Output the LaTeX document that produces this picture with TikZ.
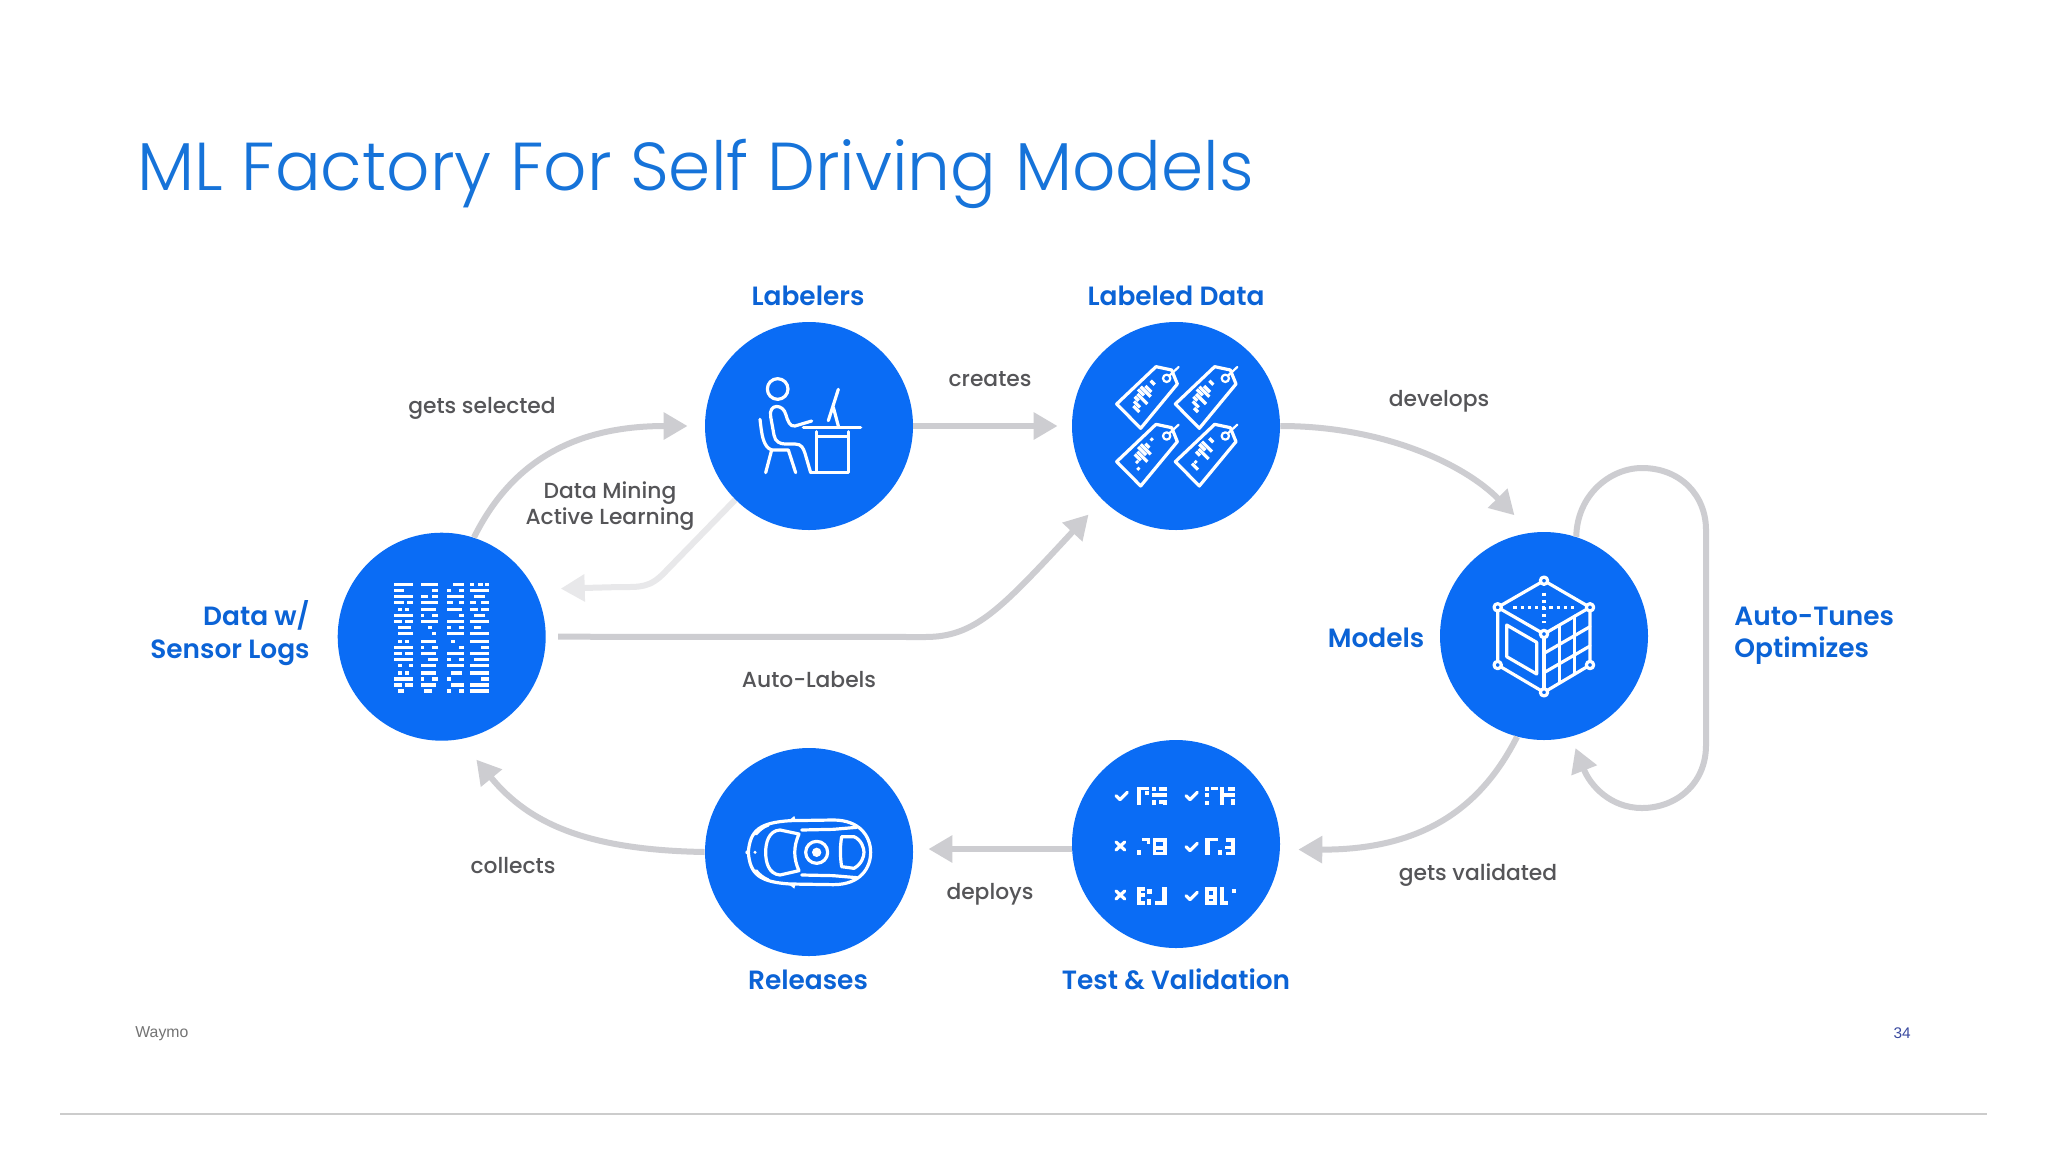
\documentclass[tikz,border=0pt]{standalone}
\usepackage{fontspec}
\setmainfont{Poppins}
\newfontfamily\labfont{Poppins Medium}
\newfontfamily\boldlabfont{Poppins SemiBold}
\newfontfamily\titlefont{Poppins Light}
\newfontfamily\footfont{Liberation Sans}
\usetikzlibrary{arrows.meta}
\definecolor{blob}{HTML}{0A6CF5}
\definecolor{labblue}{HTML}{0B63D6}
\definecolor{titleblue}{HTML}{1673D9}
\definecolor{textgray}{HTML}{555558}
\definecolor{conngray}{HTML}{CDCDD1}
\definecolor{connlight}{HTML}{E8E8EA}
\definecolor{pageblue}{HTML}{3A4AA0}
\newcommand{\glyphrects}[1]{\foreach \a/\b/\c/\d in {#1} {\fill[white] (\a,\b) rectangle (\c,\d);}}
\newcommand{\tagicon}[3]{%
  \begin{scope}[shift={(#1,#2)}]
    \draw[iconline] (140,252) -- (258,140) -- (305,150) -- (322,192) -- (212,325) -- cycle;
    \draw[iconline,line width=1.1pt] (290,175) circle (11);
    \draw[iconline,line width=1.1pt] (298,167) -- (326,141);
    \foreach \t/\p/\q in {#3} {
      \draw[white,line width=1.6pt] ({190+\t*8+\p*6},{258-\t*8+\p*6}) -- ({190+\t*8+\q*6},{258-\t*8+\q*6});
    }
  \end{scope}}
\tikzset{
  blobnode/.style={circle,fill=blob,draw=none,inner sep=0pt,minimum size=104pt},
  conn/.style={draw=conngray,line width=3pt,-{Triangle[length=12pt,width=13pt]}},
  iconline/.style={draw=white,line width=1.6pt,line cap=round,line join=round},
  bluelab/.style={text=labblue,font=\boldlabfont\fontsize{13.2}{16.2}\selectfont,inner sep=0pt},
  graylab/.style={text=textgray,font=\labfont\fontsize{10.9}{13}\selectfont,inner sep=0pt,align=center},
}
\begin{document}
\begin{tikzpicture}[x=0.5pt,y=-0.5pt]
\useasboundingbox (0,0) rectangle (2048,1152);
\fill[white] (0,0) rectangle (2048,1152);

\node[blobnode] (data) at (441.7,636.7) {};
\node[blobnode] (lab) at (809,426) {};
\node[blobnode] (ld) at (1176,426) {};
\node[blobnode] (models) at (1544,636) {};
\node[blobnode] (test) at (1176,844) {};
\node[blobnode] (rel) at (809,852) {};

\draw[conn,shorten >=8.5pt] (data.72) .. controls (510,465) and (570,426) .. (lab.west);
\draw[conn,shorten >=7pt] (lab.east) -- (ld.west);
\draw[conn,shorten >=12pt] (ld.east) .. controls (1385,426) and (1465,465) .. (models.97);
\draw[conn,draw=connlight,shorten >=13pt] (lab.225) -- (665,572) .. controls (650,588) and (640,587) .. (620,587) -- (data.27);
\draw[conn,shorten <=6pt,shorten >=10pt] (data.east) -- (925,637) .. controls (975,637) and (1000,610) .. (ld.225);
\draw[conn,shorten >=6pt] (models.72) .. controls (1577,495) and (1610,468) .. (1642,468) .. controls (1680,468) and (1706,495) .. (1706,530) -- (1706,745) .. controls (1706,785) and (1675,808) .. (1642,808) .. controls (1610,808) and (1590,785) .. (models.285);
\draw[conn,shorten >=9pt] (models.255) .. controls (1480,810) and (1420,850) .. (test.-3);
\draw[conn,shorten >=7.5pt] (test.west) ++(0,5) -- (rel.east |- 0,849);
\draw[conn,shorten >=13pt] (rel.west) .. controls (590,850) and (530,825) .. (data.-80);

% title and footer
\node[anchor=base west,text=titleblue,font=\titlefont\fontsize{33.9}{40}\selectfont,inner sep=0pt] (title) at (137,190) {ML Factory For Self Driving Models};
\node[anchor=west,text=black!55,font=\footfont\fontsize{7.9}{9}\selectfont,inner sep=0pt] (waymo) at (135,1034) {Waymo};
\node[anchor=east,text=pageblue,font=\footfont\fontsize{7.7}{9}\selectfont,inner sep=0pt] (pagenum) at (1911,1033) {34};
\coordinate (ruleL) at (60,1114);
\coordinate (ruleR) at (1987,1114);
\draw[draw=black!20,line width=0.7pt] (ruleL) -- (ruleR);

% blue labels
\node[bluelab] (t1) at (808,296) {Labelers};
\node[bluelab] (t2) at (1176,296) {Labeled Data};
\node[bluelab,align=right,anchor=east] (t3) at (310,633) {Data w/\\Sensor Logs};
\node[bluelab] (t4) at (1376,638) {Models};
\node[bluelab,align=left,anchor=west] (t5) at (1734,636) {Auto-Tunes\\Optimizes};
\node[bluelab] (t6) at (808,980) {Releases};
\node[bluelab] (t7) at (1176,979) {Test \& Validation};

% gray labels
\node[graylab] (g1) at (482,408) {gets selected};
\node[graylab] (g2) at (990,379) {creates};
\node[graylab] (g3) at (1439,401) {develops};
\node[graylab] (g4) at (610,506) {Data Mining\\Active Learning};
\node[graylab] (g5) at (809,680) {Auto-Labels};
\node[graylab] (g6) at (513,866) {collects};
\node[graylab] (g7) at (990,894) {deploys};
\node[graylab] (g8) at (1478,875) {gets validated};

% icon: code grid
\foreach \yy/\segs in {
 0/{0/5,7/11.5,15.5/18.5,20/21,22/23.5,24/25},
 1/{0/2.5,10/11.5,14/15,17/18.5,20/25},
 2/{0/5,7/9,10/11.5,14/18.5,21/24},
 3/{0/2.5,3.5/5,7/11.5,14/15.5,17/18.5,20/21.5,23/25},
 4.17/{1/2,3/4,7/11,14/18,20/22,23/25},
 5.17/{0/5,7/8,10/11.5,17/18.5,21/24},
 6.17/{0/2,3/5,7/11.5,14/18.5,20/25},
 7.17/{1/4.5,9/10,14/15,17/18.5,21/23},
 8.17/{1/5,10/11,14/18.5,20/25},
 9.5/{1/2,3/4,7/11,15/16,20/25},
 10.5/{0/5,7/8,10/11.5,17/18.5,23/25},
 11.5/{0/2,3/5,7/11,14/18.5,20/25},
 12.5/{0/5,9/11.5,14/15,17/18.5,21/25},
 13.5/{1/2,4/5,7/11,14/18.5,20/25},
 14.83/{1/2,3/4,7/11,15/18,20/25},
 15.83/{0/5,7/8,10/11.5,14/15,23/25},
 16.83/{0/2,3/5,7/11,15/18.5,20/25},
 17.83/{1/2.5,8/10,14/15,17/18.5,20/25}} {
  \foreach \a/\b in \segs {
    \fill[white] ({394+\a*3.8},{582.5+\yy*6}) rectangle ({394+\b*3.8},{586+\yy*6});
  }
}

% icon: person at desk
\begin{scope}[shift={(700,320)},scale=0.3333]
  \draw[iconline] (233,207) circle (31);
  \draw[iconline] (335,303) -- (285,318) .. controls (270,322) and (262,300) .. (258,285) .. controls (250,250) and (205,250) .. (212,290) -- (222,345) .. controls (225,365) and (240,372) .. (255,372) -- (285,372) .. controls (305,372) and (310,385) .. (315,400) -- (332,458);
  \draw[iconline] (180,298) .. controls (185,340) and (188,380) .. (215,390) -- (197,458);
  \draw[iconline] (215,390) -- (265,390) -- (287,458);
  \draw[iconline] (310,323) -- (482,323);
  \draw[iconline] (350,335) -- (350,458) -- (445,458) -- (445,335);
  \draw[iconline] (350,350) -- (445,350);
  \draw[iconline] (332,458) -- (350,458);
  \draw[iconline] (415,208) -- (385,302) (400,262) -- (415,318);
\end{scope}

% icon: tags
\begin{scope}[shift={(1070,320)},scale=0.3333]
  \tagicon{0}{0}{0/0/3,1/-1/2,2/-2/0,3/-2/3,4/-3/0,5/-3/2,6/-2/1,8/-2/0}
  \tagicon{176}{0}{0/1/3,1/-1/2,2/-2/0,3/-2/3,4/-3/0,5/-3/2,6/-2/1,8/-2/0}
  \tagicon{0}{173}{0/2/3,1/0/1,2/-2/1,3/-2/3,4/-3/1,5/-3/2,6/-2/0,8/-2/-1}
  \tagicon{176}{173}{0/0/3,1/0/1,3/-2/0,4/-2/3,5/-3/0,6/-3/2,8/-2/0}
\end{scope}

% icon: cube
\begin{scope}[shift={(1435,530)},scale=0.3333]
  \draw[iconline] (327,152) -- (188,232) -- (327,312) -- (465,232) -- cycle;
  \draw[iconline] (188,232) -- (188,405) -- (327,487) -- (465,405) -- (465,232);
  \draw[iconline] (327,312) -- (327,487);
  \draw[iconline,dotted,line width=1.8pt,line cap=butt] (235,232) -- (420,232);
  \draw[iconline,dotted,line width=1.8pt,line cap=butt] (327,188) -- (327,280);
  \draw[iconline] (215,285) -- (305,337) -- (305,432) -- (215,380) -- cycle;
  \foreach \k in {58,116} { \draw[iconline] (327,{312+\k}) -- (465,{232+\k}); }
  \foreach \k in {373,419} { \draw[iconline] (\k,{312-(\k-327)*0.58}) -- (\k,{487-(\k-327)*0.59}); }
  \foreach \p in {(327,152),(188,232),(465,232),(327,312),(188,405),(465,405),(327,487)} {
    \draw[iconline,fill=blob] \p circle (11);
  }
\end{scope}

% icon: test list
\begin{scope}[shift={(1070,740)},scale=0.3333]
  \foreach \xx/\yy in {138/165,348/165,348/318,348/465} {
    \draw[iconline,shift={(\xx,\yy)}] (0,2) -- (12,14) -- (34,-8);
  }
  \foreach \yy in {318,465} {
    \draw[iconline] (138,{\yy-12}) -- (164,{\yy+12}) (138,{\yy+12}) -- (164,{\yy-12});
  }
  \begin{scope}[shift={(200,140)}]
    \glyphrects{0/0/14/55,14/0/38/11,26/14/38/26,46/0/58/12,46/20/90/32,46/40/58/55,68/0/90/12,78/40/90/55,68/40/90/52}
  \end{scope}
  \begin{scope}[shift={(405,140)}]
    \glyphrects{0/0/12/12,0/18/12/30,0/42/12/55,18/0/38/11,46/0/58/55,46/20/90/32,68/0/90/12,78/38/90/55}
  \end{scope}
  \begin{scope}[shift={(200,293)}]
    \glyphrects{0/38/13/52,16/0/40/11,32/11/40/20,48/0/90/12,48/12/58/52,58/24/90/36,80/12/90/52,48/42/90/52}
  \end{scope}
  \begin{scope}[shift={(405,293)}]
    \glyphrects{0/0/14/52,14/0/38/11,40/38/52/52,62/0/90/12,78/12/90/52,60/24/90/34,62/42/90/52}
  \end{scope}
  \begin{scope}[shift={(200,440)}]
    \glyphrects{0/0/12/55,12/0/24/12,12/42/24/55,12/20/24/30,32/8/46/22,30/38/44/55,76/0/90/55,56/42/90/55}
  \end{scope}
  \begin{scope}[shift={(405,440)}]
    \glyphrects{0/0/12/55,12/0/36/12,24/12/36/55,12/24/24/36,12/42/24/55,46/0/58/55,58/42/70/55,80/6/92/20}
  \end{scope}
\end{scope}

% icon: car
\begin{scope}[shift={(700,740)},scale=0.3333]
  \draw[iconline] (145,337) .. controls (150,270) and (180,248) .. (270,242) -- (400,240) .. controls (480,240) and (512,290) .. (512,337) .. controls (512,385) and (480,434) .. (400,434) -- (270,432) .. controls (180,426) and (150,404) .. (145,337) -- cycle;
  \draw[iconline] (240,270) .. controls (205,272) and (197,310) .. (197,337) .. controls (197,365) and (205,402) .. (240,405) -- (297,392) .. controls (280,355) and (280,320) .. (297,282) -- cycle;
  \draw[iconline] (425,290) -- (462,290) .. controls (485,300) and (492,325) .. (492,337) .. controls (492,350) and (485,372) .. (462,385) -- (425,380) .. controls (420,350) and (420,320) .. (425,290) -- cycle;
  \draw[iconline] (305,270) -- (400,268) -- (470,262);
  \draw[iconline] (305,405) -- (400,407) -- (470,413);
  \draw[iconline] (350,337) circle (33);
  \fill[white] (350,337) circle (14);
  \draw[iconline] (168,282) .. controls (178,270) and (190,260) .. (205,255);
  \draw[iconline] (168,392) .. controls (178,404) and (190,414) .. (205,420);
  \fill[white] (268,240) -- (283,228) -- (287,242) -- cycle;
  \fill[white] (268,434) -- (283,446) -- (287,432) -- cycle;
  \fill[white] (142,337) circle (6) (165,337) circle (5);
\end{scope}
\end{tikzpicture}
\end{document}
